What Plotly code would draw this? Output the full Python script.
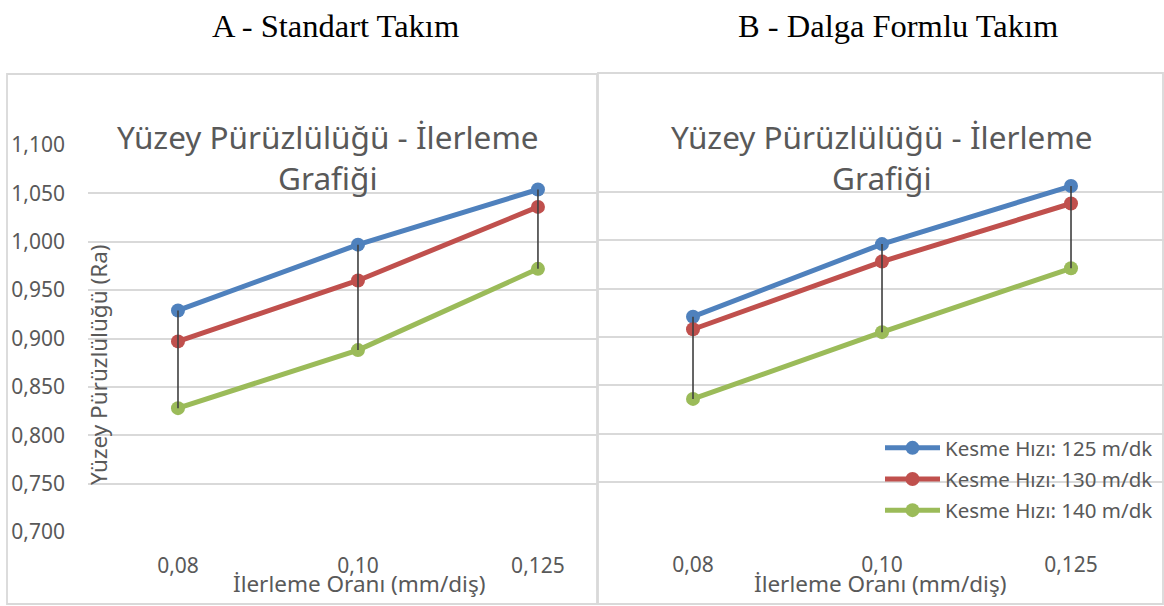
import plotly.graph_objects as go

W, H = 1164, 606

# Feed rates (categories) and cutting-speed series names
feed_labels = ["0,08", "0,10", "0,125"]
speed_names = ["Kesme Hızı: 125 m/dk", "Kesme Hızı: 130 m/dk", "Kesme Hızı: 140 m/dk"]

# Surface roughness Ra — A: standard tool
std_125 = [0.929, 0.997, 1.054]
std_130 = [0.897, 0.960, 1.036]
std_140 = [0.828, 0.888, 0.972]

# Surface roughness Ra — B: wave-form tool
wave_125 = [0.921, 0.996, 1.056]
wave_130 = [0.908, 0.978, 1.038]
wave_140 = [0.836, 0.905, 0.971]

y_ticks = [0.70, 0.75, 0.80, 0.85, 0.90, 0.95, 1.00, 1.05, 1.10]

colors = ["#4F81BD", "#C0504D", "#9BBB59"]
TEXT = "#595959"
GRID = "#D9D9D9"
SANS = "Noto Sans"


def px_x(p):
    return p / W


def px_y(p):
    return 1 - p / H


fig = go.Figure()

panels = [
    ("x", "y", [std_125, std_130, std_140], False),
    ("x2", "y2", [wave_125, wave_130, wave_140], True),
]

for xa, ya, series, legend in panels:
    for name, vals, col in zip(speed_names, series, colors):
        fig.add_trace(go.Scatter(
            x=feed_labels, y=vals, name=name, xaxis=xa, yaxis=ya,
            mode="lines+markers",
            line=dict(color=col, width=5),
            marker=dict(color=col, size=14),
            showlegend=legend, legendgroup=name,
            cliponaxis=False,
        ))
    # high-low lines joining the top and bottom series at each feed rate
    hx, hy = [], []
    for i, lab in enumerate(feed_labels):
        col_vals = [s[i] for s in series]
        hx += [lab, lab, None]
        hy += [max(col_vals), min(col_vals), None]
    fig.add_trace(go.Scatter(
        x=hx, y=hy, xaxis=xa, yaxis=ya, mode="lines",
        line=dict(color="#404040", width=1.6),
        showlegend=False, hoverinfo="skip", cliponaxis=False,
    ))

axis_common = dict(
    type="category", showline=False, zeroline=False, ticks="", automargin=False,
    tickfont=dict(family=SANS, size=21, color=TEXT),
)
yaxis_common = dict(
    range=[0.70, 1.10], tickvals=y_ticks, tickformat=".3f", automargin=False,
    showgrid=True, gridcolor=GRID, gridwidth=1.8,
    zeroline=False, showline=False, ticks="",
    tickfont=dict(family=SANS, size=21, color=TEXT),
)

fig.update_layout(
    width=W, height=H, autosize=False,
    margin=dict(l=0, r=0, t=0, b=0, pad=0, autoexpand=False),
    paper_bgcolor="white", plot_bgcolor="rgba(0,0,0,0)",
    separators=",.",
    showlegend=True,
    xaxis=dict(domain=[px_x(88), px_x(597)], range=[-0.5, 2.328],
               anchor="y", ticklabelstandoff=19, **axis_common),
    yaxis=dict(domain=[px_y(532), px_y(145)], anchor="x",
               ticklabelstandoff=22, **yaxis_common),
    xaxis2=dict(domain=[px_x(597), 1.0], range=[-0.508, 2.492],
                anchor="y2", ticklabelstandoff=19, **axis_common),
    yaxis2=dict(domain=[px_y(530.5), px_y(143.5)], anchor="x2",
                showticklabels=False, **yaxis_common),
    legend=dict(
        x=px_x(880), y=px_y(428), xanchor="left", yanchor="top",
        bgcolor="rgba(0,0,0,0)", borderwidth=0,
        font=dict(family=SANS, size=20.5, color=TEXT),
        itemwidth=55, tracegroupgap=1.5,
    ),
)

# panel frames
for x0, x1, y0, y1 in [(7, 597, 74, 604), (598, 1163, 73, 604)]:
    fig.add_shape(type="rect", xref="paper", yref="paper",
                  x0=px_x(x0), x1=px_x(x1), y0=px_y(y1), y1=px_y(y0),
                  line=dict(color=GRID, width=1.8), fillcolor="rgba(0,0,0,0)",
                  layer="below")


def label(text, cx, cy, size, color=TEXT, family=SANS, angle=0):
    fig.add_annotation(text=text, xref="paper", yref="paper",
                       x=px_x(cx), y=px_y(cy), xanchor="center", yanchor="middle",
                       showarrow=False, align="center", textangle=angle,
                       font=dict(family=family, size=size, color=color))


# panel headings
label("A - Standart Takım", 335, 26, 32.5, color="black", family="Liberation Serif")
label("B - Dalga Formlu Takım", 898, 26, 32.5, color="black", family="Liberation Serif")

# chart titles
for cx in [328, 882]:
    label("Yüzey Pürüzlülüğü - İlerleme<br>Grafiği", cx, 157, 31.5)

# axis titles
for cx in [359, 880]:
    label("İlerleme Oranı (mm/diş)", cx, 583, 22.5)
label("Yüzey Pürüzlülüğü (Ra)", 98, 365, 22.5, angle=-90)

fig.write_html("out.html")
